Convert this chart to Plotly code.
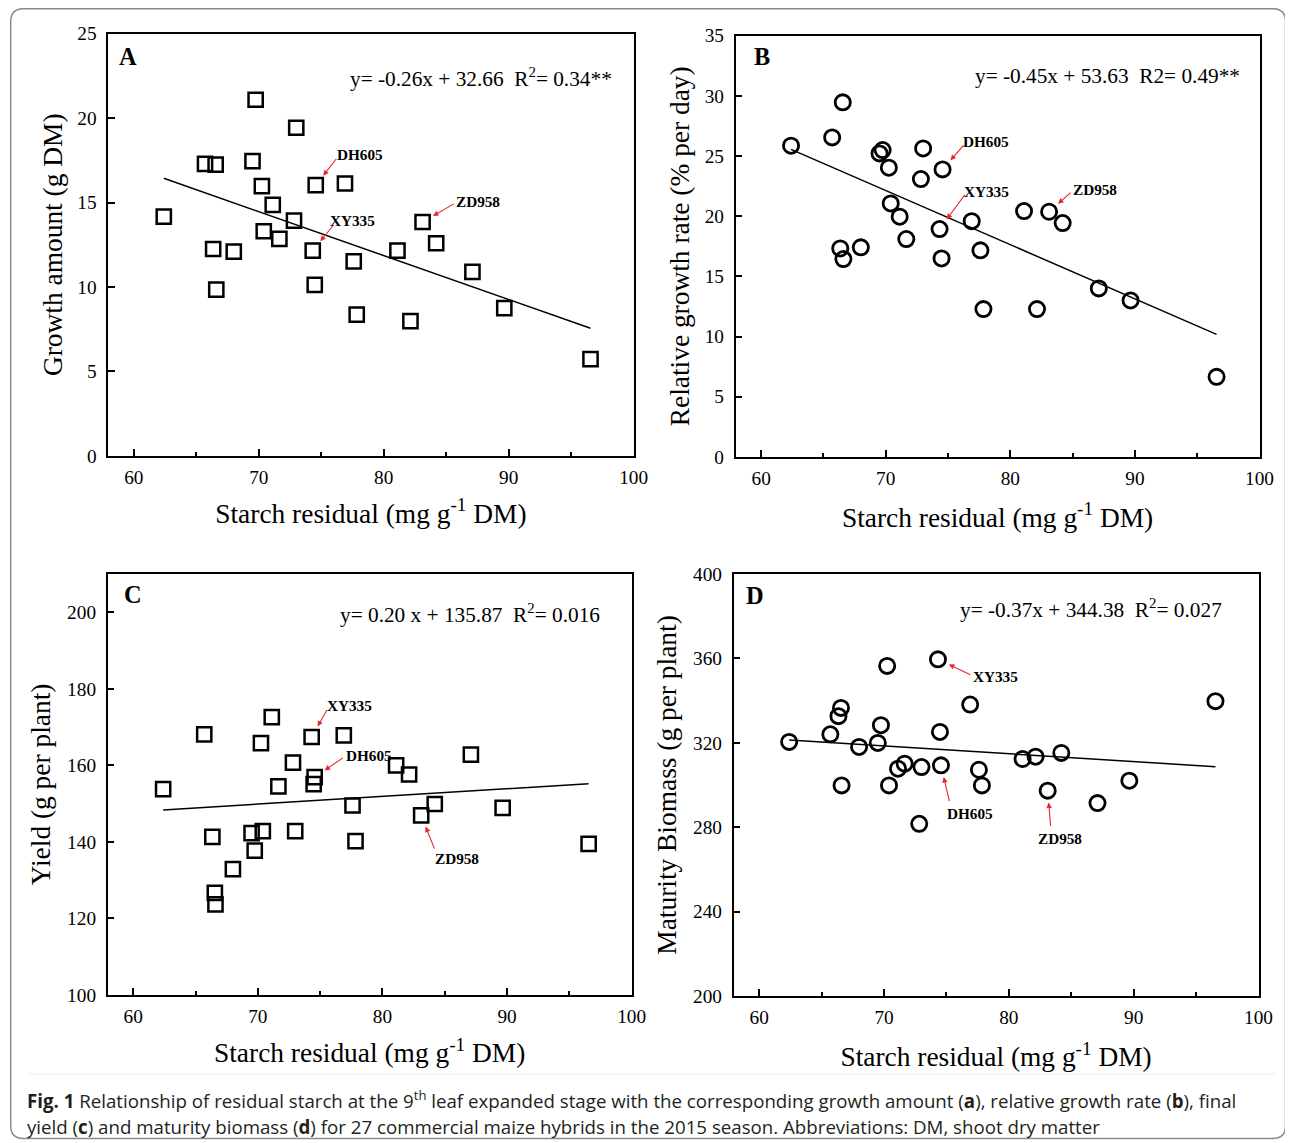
import plotly.graph_objects as go

FW, FH = 1293, 1143
# measured mapping from figure pixels to the photographed picture
SX, AX0 = 0.9893, 7.3
SY, AY0 = 0.9813, 17.3
FS = 1 / 0.985  # font compensation

# ---------------- data ----------------
starch = [62.4, 65.7, 66.35, 66.55, 66.6, 68.0, 69.5, 69.75, 70.25, 70.4,
          71.12, 71.65, 72.82, 73.0, 74.56, 74.32, 74.48, 76.9, 77.6, 77.84,
          81.1, 82.14, 83.11, 84.2, 87.1, 89.65, 96.55]
hybrid = ['', '', '', '', '', '', '', '', '', '',
          '', '', '', '', 'DH605', 'XY335', '', '', '', '',
          '', '', 'ZD958', '', '', '', '']
growth_amount = [14.17, 17.29, 12.25, 17.25, 9.84, 12.09, 17.45, 21.09, 15.97, 13.30,
                 14.86, 12.85, 13.93, 19.43, 16.03, 12.15, 10.12, 16.13, 11.52, 8.36,
                 12.15, 7.98, 13.85, 12.59, 10.89, 8.75, 5.73]
growth_rate = [25.86, 26.55, 17.32, 29.46, 16.44, 17.41, 25.22, 25.50, 24.03, 21.06,
               19.96, 18.10, 23.09, 25.63, 23.89, 18.93, 16.49, 19.59, 17.16, 12.28,
               20.43, 12.28, 20.37, 19.43, 14.00, 13.00, 6.65]
yield_plant = [153.8, 168.1, 141.3, 126.7, 123.7, 132.9, 142.3, 137.7, 165.8, 142.8,
               172.6, 154.5, 160.7, 142.8, 156.9, 167.4, 155.1, 167.8, 149.5, 140.2,
               160.0, 157.6, 146.9, 149.9, 162.8, 148.9, 139.5]
biomass = [320.4, 324.0, 332.6, 336.5, 299.8, 318.0, 319.9, 328.3, 356.4, 299.8,
           307.7, 310.1, 281.6, 308.5, 309.3, 359.5, 325.1, 338.1, 307.2, 299.8,
           312.3, 313.4, 297.3, 315.2, 291.4, 302.0, 339.7]

slopes = [-0.26, -0.45, 0.20, -0.37]
intercepts = [32.66, 53.63, 135.87, 344.38]
equations = ['y= -0.26x + 32.66  R<sup>2</sup>= 0.34**',
             'y= -0.45x + 53.63  R2= 0.49**',
             'y= 0.20 x + 135.87  R<sup>2</sup>= 0.016',
             'y= -0.37x + 344.38  R<sup>2</sup>= 0.027']
panel_letters = ['A', 'B', 'C', 'D']
y_titles = ['Growth amount (g DM)', 'Relative growth rate (% per day)',
            'Yield (g per plant)', 'Maturity Biomass (g per plant)']
x_title = 'Starch residual (mg g<sup>-1</sup> DM)'
x_ticks = [60, 70, 80, 90, 100]
y_ticks = [[0, 5, 10, 15, 20, 25],
           [0, 5, 10, 15, 20, 25, 30, 35],
           [100, 120, 140, 160, 180, 200],
           [200, 240, 280, 320, 360, 400]]
y_ranges = [[0, 25], [0, 35], [100, 210], [200, 400]]
series = [growth_amount, growth_rate, yield_plant, biomass]

caption1 = ('<b>Fig. 1</b> Relationship of residual starch at the 9<sup>th</sup> leaf expanded stage '
            'with the corresponding growth amount (<b>a</b>), relative growth rate (<b>b</b>), final')
caption2 = ('yield (<b>c</b>) and maturity biomass (<b>d</b>) for 27 commercial maize hybrids '
            'in the 2015 season. Abbreviations: DM, shoot dry matter')

# ---------------- layout / style ----------------
SERIF = 'Liberation Serif, Times New Roman, serif'
# plot boxes in picture pixels: left, right, top, bottom
boxes = [(107.5, 633, 33, 455), (735, 1259, 35, 456),
         (107, 631, 573, 994), (733, 1258, 573, 995)]
symbols = ['square-open', 'circle-open', 'square-open', 'circle-open']
msizes = [14.2, 15.2, 14.2, 15.2]
mlines = [2.5, 2.8, 2.5, 2.8]
eq_pos = [(0.962, 0.896), (0.966, 0.905), (0.943, 0.905), (0.935, 0.917)]
letter_pos = [(0.017, 0.946), (0.032, 0.95), (0.027, 0.95), (0.020, 0.948)]
ytitle_standoff = [7, 7, 9, 8]
xtitle_standoff = [17, 20, 17, 20]
# arrow tail offset (px), label offset (px), label anchor
label_spec = [
    {'DH605': (21.6, -27.4, 19, -30, 'left'), 'ZD958': (32.4, -18.6, 31, -20, 'left'),
     'XY335': (21, -25.7, 15, -30, 'left')},
    {'DH605': (22, -25, 18.5, -27.7, 'left'), 'XY335': (26, -35, 22, -36.6, 'left'),
     'ZD958': (22.7, -20, 21.7, -21.7, 'left')},
    {'XY335': (16, -28, 13, -30.7, 'left'), 'DH605': (29.5, -20, 29, -21, 'left'),
     'ZD958': (13.7, 34, 11.4, 42.4, 'left')},
    {'XY335': (33.4, 15.7, 33, 16.7, 'left'), 'DH605': (8.7, 36.7, 4, 47.3, 'left'),
     'ZD958': (3, 36, 12, 46.6, 'center')},
]


def fx(x):
    return (x - AX0) / SX


def fy(y):
    return (y - AY0) / SY


def px(x):
    return fx(x) / FW


def py(y):
    return 1 - fy(y) / FH


fig = go.Figure()
annotations = []
layout = {}

for i in range(4):
    k = '' if i == 0 else str(i + 1)
    xa, ya = 'x' + k, 'y' + k
    vals = series[i]
    fig.add_trace(go.Scatter(
        x=starch, y=vals, mode='markers', xaxis=xa, yaxis=ya,
        marker=dict(symbol=symbols[i], size=msizes[i], color='black',
                    line=dict(color='black', width=mlines[i])),
        showlegend=False, hoverinfo='x+y'))
    xmin, xmax = min(starch), max(starch)
    fig.add_trace(go.Scatter(
        x=[xmin, xmax], y=[slopes[i] * xmin + intercepts[i], slopes[i] * xmax + intercepts[i]],
        mode='lines', xaxis=xa, yaxis=ya, line=dict(color='black', width=1.5),
        showlegend=False, hoverinfo='skip'))

    l, r, t, b = boxes[i]
    layout['xaxis' + k] = dict(
        domain=[px(l), px(r)], anchor=ya, range=[57.95, 100],
        tickmode='array', tickvals=x_ticks, ticks='inside', ticklen=7, tickwidth=1.5,
        tickcolor='black', ticklabelstandoff=3,
        minor=dict(dtick=5, tick0=60, ticks='inside', ticklen=4, tickwidth=1.5, tickcolor='black'),
        showline=True, linecolor='black', linewidth=1.6, mirror=True,
        showgrid=False, zeroline=False,
        tickfont=dict(family=SERIF, size=19 * FS, color='black'),
        title=dict(text=x_title, font=dict(family=SERIF, size=27 * FS, color='black'),
                   standoff=xtitle_standoff[i]))
    layout['yaxis' + k] = dict(
        domain=[py(b), py(t)], anchor=xa, range=y_ranges[i],
        tickmode='array', tickvals=y_ticks[i], ticks='inside', ticklen=7, tickwidth=1.5,
        tickcolor='black', ticklabelstandoff=6,
        showline=True, linecolor='black', linewidth=1.6, mirror=True,
        showgrid=False, zeroline=False,
        tickfont=dict(family=SERIF, size=19 * FS, color='black'),
        title=dict(text=y_titles[i], font=dict(family=SERIF, size=27 * FS, color='black'),
                   standoff=ytitle_standoff[i]))

    dref_x, dref_y = xa + ' domain', ya + ' domain'
    annotations.append(dict(
        x=eq_pos[i][0], y=eq_pos[i][1], xref=dref_x, yref=dref_y, text=equations[i],
        showarrow=False, xanchor='right', yanchor='middle',
        font=dict(family=SERIF, size=21 * FS, color='black')))
    annotations.append(dict(
        x=letter_pos[i][0], y=letter_pos[i][1], xref=dref_x, yref=dref_y,
        text='<b>' + panel_letters[i] + '</b>', showarrow=False,
        xanchor='left', yanchor='middle', font=dict(family=SERIF, size=24 * FS, color='black')))

    for j, name in enumerate(hybrid):
        if not name:
            continue
        tdx, tdy, ldx, ldy, anc = label_spec[i][name]
        annotations.append(dict(
            x=starch[j], y=vals[j], xref=xa, yref=ya, text='', showarrow=True,
            ax=tdx / SX, ay=tdy / SY, axref='pixel', ayref='pixel', arrowhead=2, arrowsize=1.0,
            arrowwidth=1.1, arrowcolor='#e5262b', standoff=12))
        annotations.append(dict(
            x=starch[j], y=vals[j], xref=xa, yref=ya, text='<b>' + name + '</b>',
            showarrow=False, xanchor=anc, yanchor='middle', xshift=ldx / SX, yshift=-ldy / SY,
            font=dict(family=SERIF, size=15 * FS, color='black')))

CAPFONT = dict(family='Open Sans, Noto Sans, sans-serif', size=18.7, color='#231f20')
annotations.append(dict(x=px(24), y=py(1098), xref='paper', yref='paper', text=caption1,
                        showarrow=False, xanchor='left', yanchor='middle', font=CAPFONT))
annotations.append(dict(x=px(24), y=py(1125), xref='paper', yref='paper', text=caption2,
                        showarrow=False, xanchor='left', yanchor='middle', font=CAPFONT))

# rounded outer frame, in figure pixels converted to paper fractions
fx0, fx1 = fx(10), min(fx(1288), FW - 1.5)
fy0, fy1 = fy(8), min(fy(1140), FH - 1.5)
rr = 13


def qx(v):
    return v / FW


def qy(v):
    return 1 - v / FH


path = (f'M {qx(fx0 + rr)},{qy(fy0)} L {qx(fx1 - rr)},{qy(fy0)} '
        f'Q {qx(fx1)},{qy(fy0)} {qx(fx1)},{qy(fy0 + rr)} L {qx(fx1)},{qy(fy1 - rr)} '
        f'Q {qx(fx1)},{qy(fy1)} {qx(fx1 - rr)},{qy(fy1)} L {qx(fx0 + rr)},{qy(fy1)} '
        f'Q {qx(fx0)},{qy(fy1)} {qx(fx0)},{qy(fy1 - rr)} L {qx(fx0)},{qy(fy0 + rr)} '
        f'Q {qx(fx0)},{qy(fy0)} {qx(fx0 + rr)},{qy(fy0)} Z')
shapes = [
    dict(type='path', xref='paper', yref='paper', path=path,
         line=dict(color='#8a8a8a', width=1.5)),
    dict(type='line', xref='paper', yref='paper', x0=px(28), x1=px(1275),
         y0=py(1073), y1=py(1073), line=dict(color='#ececec', width=1)),
]

fig.update_layout(
    width=FW, height=FH, margin=dict(l=0, r=0, t=0, b=0),
    paper_bgcolor='white', plot_bgcolor='white',
    annotations=annotations, shapes=shapes, showlegend=False,
    **layout)

fig.write_html('out.html')
